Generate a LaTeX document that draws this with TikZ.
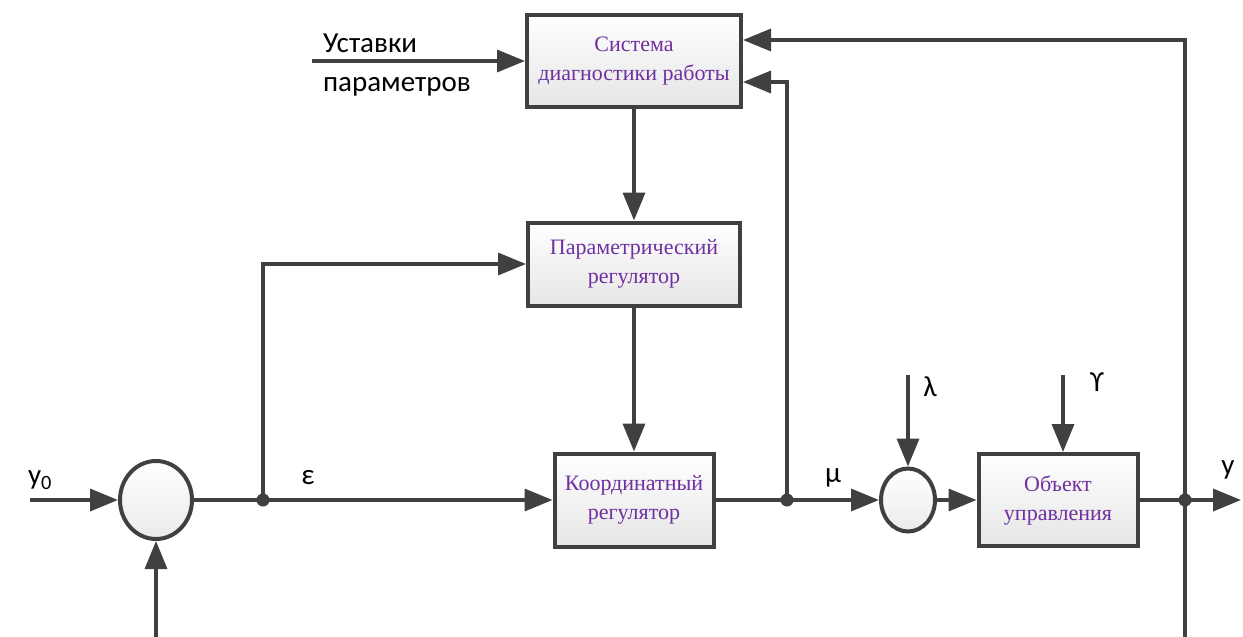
\documentclass[tikz,border=0pt]{standalone}
\usepackage{fontspec}
\setmainfont{Liberation Serif}
\newfontfamily\labelfont{Carlito}
\usetikzlibrary{arrows.meta,shapes.geometric}
\definecolor{linegray}{RGB}{64,64,64}
\definecolor{textpurple}{RGB}{112,48,160}

\begin{document}
\begin{tikzpicture}[x=1pt,y=-1pt,
  color=linegray, line width=3.5pt,
  blockbox/.style={draw=linegray, line width=4pt, top color=white, bottom color=black!10,
    text=textpurple, font=\fontsize{22}{29}\selectfont, align=center, inner sep=0pt},
  sumnode/.style={ellipse, draw=linegray, line width=4pt, top color=white, bottom color=black!8, inner sep=0pt},
  dotnode/.style={circle, fill=linegray, inner sep=0pt, minimum size=13pt},
  sig/.style={font=\labelfont\fontsize{29}{39}\selectfont, text=black},
  flow/.style={-{Triangle[length=28pt,width=22pt]}}]
\useasboundingbox (0,0) rectangle (1243,637);

% blocks
\node[blockbox, minimum width=214pt, minimum height=92pt] (diag) at (634,61) {Система\\диагностики работы};
\node[blockbox, minimum width=212pt, minimum height=83pt] (param) at (634,264) {Параметрический\\регулятор};
\node[blockbox, minimum width=159pt, minimum height=93pt] (coord) at (634,500) {Координатный\\регулятор};
\node[blockbox, minimum width=159pt, minimum height=92pt] (plant) at (1058,500) {Объект\\управления};
\node[sumnode, minimum width=72pt, minimum height=78pt] (sumA) at (156,500) {};
\node[sumnode, minimum width=54pt, minimum height=63pt] (sumB) at (908,500) {};

% branch points and free ends
\coordinate (jA) at (263,500);
\coordinate (jB) at (787,500);
\coordinate (jC) at (1185,500);
\coordinate (y0in) at (30,500);
\coordinate (fbA) at (156,637);
\coordinate (fbC) at (1185,637);
\coordinate (yout) at (1241,500);
\coordinate (setin) at (312,61);
\coordinate (lamin) at (908,375);
\coordinate (gamin) at (1063,375);

% connectors
\draw[flow] (y0in) -- (sumA);
\draw[flow] (fbA) -- (sumA);
\draw (sumA) -- (jA);
\draw[flow] (jA) -- (coord);
\draw[flow] (jA) |- (param);
\draw[flow] (setin) -- (diag);
\draw[flow] (diag) -- (param);
\draw[flow] (param) -- (coord);
\draw (coord) -- (jB);
\draw[flow] (jB) -- (sumB);
\draw[flow] (jB) |- ([yshift=-21pt]diag.east);
\draw[flow] (lamin) -- (sumB);
\draw[flow] (sumB) -- (plant);
\draw[flow] (gamin) -- (gamin |- plant.north);
\draw (plant) -- (jC);
\draw[flow] (jC) -- (yout);
\draw[flow] (fbC) |- ([yshift=21pt]diag.east);

\node[dotnode] (dotA) at (jA) {};
\node[dotnode] (dotB) at (jB) {};
\node[dotnode] (dotC) at (jC) {};

% signal labels
\node[sig] (lblY0) at (40,480) {y\textsubscript{0}};
\node[sig] (lblEps) at (308,478) {ε};
\node[sig] (lblMu) at (833,478) {μ};
\node[sig] (lblLam) at (930,387) {λ};
\node[sig] (lblGam) at (1097,382) {ϒ};
\node[sig] (lblY) at (1228,470) {y};
\node[sig, align=left, anchor=west] (lblSet) at (318,65) {Уставки\\параметров};
\end{tikzpicture}
\end{document}
